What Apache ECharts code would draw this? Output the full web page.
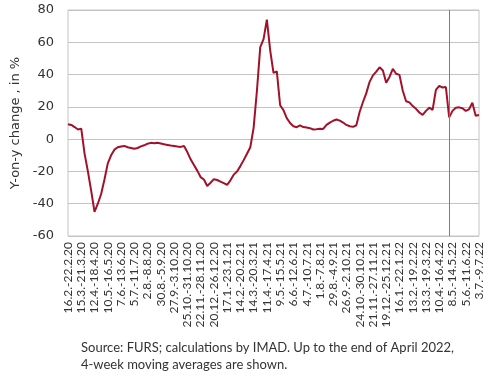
<!DOCTYPE html>
<html>
<head>
<meta charset="utf-8">
<script src="https://cdn.jsdelivr.net/npm/echarts@6/dist/echarts.min.js"></script>
<style>html,body{margin:0;padding:0;background:#fff}#c{width:490px;height:379px}</style>
</head>
<body>
<div id="c"></div>
<script>
// Weekly tick labels (every 4th week)
var tickLabels = ["16.2.-22.2.20","15.3.-21.3.20","12.4.-18.4.20","10.5.-16.5.20","7.6.-13.6.20","5.7.-11.7.20","2.8.-8.8.20","30.8.-5.9.20","27.9.-3.10.20","25.10.-31.10.20","22.11.-28.11.20","20.12.-26.12.20","17.1.-23.1.21","14.2.-20.2.21","14.3.-20.3.21","11.4.-17.4.21","9.5.-15.5.21","6.6.-12.6.21","4.7.-10.7.21","1.8.-7.8.21","29.8.-4.9.21","26.9.-2.10.21","24.10.-30.10.21","21.11.-27.11.21","19.12.-25.12.21","16.1.-22.1.22","13.2.-19.2.22","13.3.-19.3.22","10.4.-16.4.22","8.5.-14.5.22","5.6.-11.6.22","3.7.-9.7.22"];

// Y-on-y change, in % (weekly, 16.2.2020 - 3.7.2022)
var values2020a = [9.2,8.8,7.5,6.0,6.5,-9,-20,-32,-45,-40,-34,-25,-15,-10,-6.5,-5,-4.5,-4.2,-5,-5.5,-6,-5.5,-4.5,-3.8,-2.8,-2.3,-2.6,-2.3,-2.7,-3.2,-3.6,-4,-4.2,-4.6,-4.8,-4.3];
var values2020b = [-8,-12.5,-16,-19.5,-23.5,-25,-29,-27,-24.8,-25.3,-26.3,-27.3,-28.4,-25.5,-22,-20,-16.7,-13,-9,-5,7,30,57,62,74,55,41,42];
var values2021 = [21,18,13,10,8,7.4,8.5,7.5,7.2,6.8,6,6.2,6.5,6.3,8.8,10.2,11.4,12.2,11.5,10.3,8.8,8,7.6,8.6,17,23,28.5,35.5,39.5,41.8,44.5,42.5,35,38.5,43.5,40.5,39.8];
var values2022 = [30,23.5,22.8,20.5,18.8,16.5,15,17.5,19.5,18.1,30.5,33,32,32.3,13.5,17.5,19.5,19.7,19.1,17.5,18.5,22.5,14.5,15];
var yTicks = [-60,-40,-20,0,20,40,60,80];
var markerWeek = 115; // end of April 2022: switch from 4-week moving averages

var values = values2020a.concat(values2020b, values2021, values2022);

// weekly categories
var categories = [];
var start = new Date(Date.UTC(2020,1,16));
for (var i = 0; i < values.length; i++) {
  var d0 = new Date(start.getTime() + i*7*86400000);
  var d1 = new Date(d0.getTime() + 6*86400000);
  categories.push(d0.getUTCDate()+'.'+(d0.getUTCMonth()+1)+'.-'+d1.getUTCDate()+'.'+(d1.getUTCMonth()+1)+'.'+String(d1.getUTCFullYear()).slice(2));
}

var chart = echarts.init(document.getElementById('c'), null, {renderer:'canvas'});
var txt = '#333333';
chart.setOption({
  animation:false,
  grid:{left:68,right:11,top:10,bottom:143,show:true,borderColor:'#c4c4c4',borderWidth:1},
  xAxis:{
    type:'category', data:categories, boundaryGap:false,
    axisLine:{show:false}, axisTick:{show:false},
    splitLine:{show:false},
    axisLabel:{
      interval:3, rotate:90, margin:6, color:txt,
      fontFamily:'Lato', fontSize:12,
      formatter:function(v, idx){ return tickLabels[Math.round(idx/4)] || v; }
    }
  },
  yAxis:{
    type:'value', min:yTicks[0], max:yTicks[yTicks.length-1], interval:20,
    name:'Y-on-y change , in %', nameLocation:'middle', nameGap:38,
    nameTextStyle:{color:txt, fontFamily:'DejaVu Sans', fontSize:13},
    axisLine:{show:false}, axisTick:{show:false},
    splitLine:{lineStyle:{color:'#c4c4c4',width:1}},
    axisLabel:{color:txt, fontFamily:'DejaVu Sans', fontSize:13, margin:14}
  },
  series:[{
    type:'line', data:values, symbol:'none', smooth:false,
    lineStyle:{color:'#a3102a', width:2},
    markLine:{
      silent:true, symbol:'none', label:{show:false},
      lineStyle:{color:'#6f7f98', width:1, type:'solid'},
      data:[{xAxis:markerWeek}]
    }
  }],
  graphic:[
    {type:'text', left:81, top:341, style:{text:'Source: FURS; calculations by IMAD. Up to the end of April 2022,', fill:txt, font:'13px Lato'}},
    {type:'text', left:81, top:358, style:{text:'4-week moving averages are shown.', fill:txt, font:'13px Lato'}}
  ]
});
</script>
</body>
</html>
